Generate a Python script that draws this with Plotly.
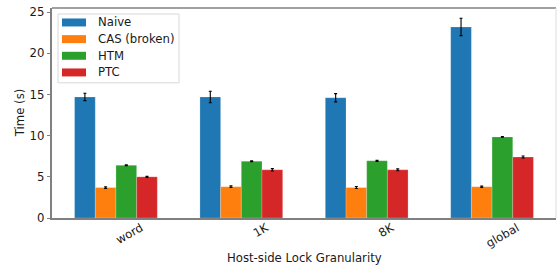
import plotly.graph_objects as go

categories = ["word", "1K", "8K", "global"]
series_names = ["Naive", "CAS (broken)", "HTM", "PTC"]
naive = [14.7, 14.7, 14.6, 23.2]
naive_err = [0.45, 0.7, 0.5, 1.05]
cas = [3.7, 3.8, 3.7, 3.8]
cas_err = [0.1, 0.1, 0.12, 0.08]
htm = [6.4, 6.9, 6.95, 9.85]
htm_err = [0.05, 0.05, 0.07, 0.05]
ptc = [5.0, 5.85, 5.85, 7.4]
ptc_err = [0.07, 0.15, 0.12, 0.12]
colors = ["#1f77b4", "#ff7f0e", "#2ca02c", "#d62728"]
y_ticks = [0, 5, 10, 15, 20, 25]

values = [naive, cas, htm, ptc]
errors = [naive_err, cas_err, htm_err, ptc_err]

W, H = 557, 268
L, R, T, B = 52, 1, 8, 49.5
pw, ph = W - L - R, H - T - B

def px(x):
    return (x - L) / pw

def py(y):
    return (H - B - y) / ph

FS = 11.7
font = "DejaVu Sans, sans-serif"

fig = go.Figure()
for name, vals, errs, col in zip(series_names, values, errors, colors):
    fig.add_trace(go.Bar(
        x=categories, y=vals, name=name, showlegend=False,
        marker=dict(color=col, line=dict(color="rgba(255,255,255,0.35)", width=0.6)),
        error_y=dict(type="data", array=errs, color="black", thickness=1.1, width=1.5),
    ))

fig.update_layout(
    width=W, height=H,
    margin=dict(l=L, r=R, t=T, b=B, autoexpand=False),
    plot_bgcolor="white", paper_bgcolor="white",
    barmode="group", bargap=0.34, bargroupgap=0,
    font=dict(family=font, size=FS, color="#1a1a1a"),
    showlegend=False,
    xaxis=dict(
        type="category", range=[-0.51, 3.51], automargin=False,
        tickangle=-30, ticks="", ticklabelshift=25, ticklabelstandoff=-3,
        showline=True, linecolor="#808080", linewidth=1.5,
        showgrid=False, tickfont=dict(size=FS),
    ),
    yaxis=dict(
        range=[0, 25.5], tickvals=y_ticks, ticks="outside", ticklen=3.5, tickcolor="#808080",
        automargin=False,
        showline=True, linecolor="#808080", linewidth=1.5, showgrid=False, zeroline=False,
        tickfont=dict(size=FS),
    ),
)

# top and right spines
fig.add_shape(type="line", xref="paper", yref="paper", x0=0, x1=1, y0=1, y1=1,
              line=dict(color="#808080", width=1.5))
fig.add_shape(type="line", xref="paper", yref="paper", x0=1, x1=1, y0=0, y1=1,
              line=dict(color="#dddddd", width=1))

# axis titles
fig.add_annotation(text="Host-side Lock Granularity", xref="paper", yref="paper",
                   x=px(304), y=py(258.5), showarrow=False, xanchor="center", yanchor="middle",
                   font=dict(size=FS))
fig.add_annotation(text="Time (s)", xref="paper", yref="paper", textangle=-90,
                   x=px(19.5), y=py(113), showarrow=False, xanchor="center", yanchor="middle",
                   font=dict(size=FS))

# legend box (matplotlib style)
fig.add_shape(type="rect", xref="paper", yref="paper",
              x0=px(58), x1=px(179), y0=py(83), y1=py(14),
              line=dict(color="#d8d8d8", width=1), fillcolor="rgba(255,255,255,0.85)")
row_y = [22.5, 39.2, 55.9, 72.6]
for name, col, ry in zip(series_names, colors, row_y):
    fig.add_shape(type="rect", xref="paper", yref="paper",
                  x0=px(62), x1=px(86), y0=py(ry + 4), y1=py(ry - 4),
                  line=dict(width=0), fillcolor=col)
    fig.add_annotation(text=name, xref="paper", yref="paper", x=px(96), y=py(ry),
                       showarrow=False, xanchor="left", yanchor="middle", font=dict(size=FS))

fig.write_html("out.html", config={"displayModeBar": False},
               post_script="document.body.style.margin='0';")
